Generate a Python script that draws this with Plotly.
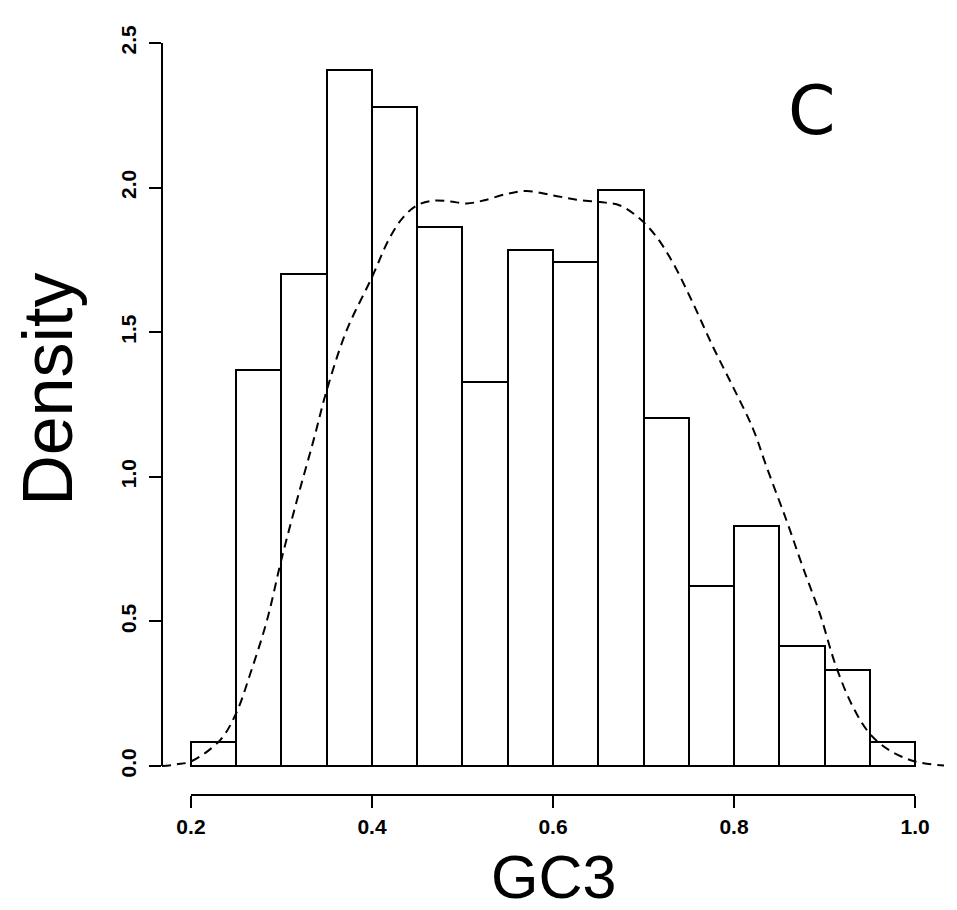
import plotly.graph_objects as go

# Histogram data (GC3 density histogram)
bin_edges = [0.20, 0.25, 0.30, 0.35, 0.40, 0.45, 0.50, 0.55, 0.60, 0.65,
             0.70, 0.75, 0.80, 0.85, 0.90, 0.95, 1.00]
bin_density = [0.082, 1.368, 1.700, 2.405, 2.280, 1.865, 1.327, 1.783,
               1.742, 1.990, 1.203, 0.621, 0.829, 0.414, 0.331, 0.082]

# Kernel density estimate (dashed curve)
kde_x = [0.168, 0.1845, 0.200, 0.232, 0.2497, 0.2655, 0.284, 0.2997, 0.317,
         0.3354, 0.350, 0.372, 0.400, 0.420, 0.4347, 0.4495, 0.468, 0.486,
         0.5047, 0.523, 0.5488, 0.571, 0.600, 0.626, 0.652, 0.674, 0.696,
         0.7145, 0.733, 0.755, 0.777, 0.799, 0.821, 0.836, 0.858, 0.876,
         0.8948, 0.913, 0.9315, 0.950, 0.972, 1.000, 1.033]
kde_y = [0.000, 0.006, 0.016, 0.089, 0.181, 0.319, 0.504, 0.711, 0.918,
         1.126, 1.299, 1.506, 1.690, 1.829, 1.898, 1.938, 1.955, 1.952,
         1.945, 1.955, 1.978, 1.988, 1.973, 1.958, 1.950, 1.938, 1.892,
         1.829, 1.737, 1.598, 1.448, 1.310, 1.166, 1.034, 0.849, 0.688,
         0.527, 0.342, 0.204, 0.112, 0.054, 0.016, 0.002]

x_ticks = [0.2, 0.4, 0.6, 0.8, 1.0]
x_ticklabels = ["0.2", "0.4", "0.6", "0.8", "1.0"]
y_ticks = [0.0, 0.5, 1.0, 1.5, 2.0, 2.5]
y_ticklabels = ["0.0", "0.5", "1.0", "1.5", "2.0", "2.5"]

x_title = "GC3"
y_title = "Density"
panel_label = "C"

centers = [(a + b) / 2 for a, b in zip(bin_edges[:-1], bin_edges[1:])]
widths = [b - a for a, b in zip(bin_edges[:-1], bin_edges[1:])]

fig = go.Figure()
fig.add_trace(go.Bar(
    x=centers, y=bin_density, width=widths,
    marker=dict(color="white", line=dict(color="black", width=2)),
    showlegend=False, hoverinfo="x+y",
))
fig.add_trace(go.Scatter(
    x=kde_x, y=kde_y, mode="lines",
    line=dict(color="black", width=2, dash="9px,6px", shape="spline"),
    showlegend=False,
))

tick_font = dict(family="Liberation Sans, Arial, sans-serif", size=21,
                 color="black", weight="bold")

fig.update_layout(
    width=949, height=902,
    margin=dict(l=154, r=13, t=6, b=115),
    paper_bgcolor="white", plot_bgcolor="white",
    bargap=0,
    xaxis=dict(
        range=[0.168, 1.032], showgrid=False, zeroline=False, showline=False,
        tickmode="array", tickvals=x_ticks, ticktext=x_ticklabels,
        ticks="outside", ticklen=12, tickwidth=2, tickcolor="black",
        tickfont=tick_font, ticklabelstandoff=1,
    ),
    yaxis=dict(
        range=[-0.1, 2.6], showgrid=False, zeroline=False, showline=False,
        tickmode="array", tickvals=y_ticks, ticktext=y_ticklabels,
        ticks="outside", ticklen=12, tickwidth=2, tickcolor="black",
        tickfont=tick_font, tickangle=-90, ticklabelstandoff=5,
    ),
    shapes=[
        dict(type="line", xref="x", yref="paper", x0=x_ticks[0], x1=x_ticks[-1],
             y0=0, y1=0, line=dict(color="black", width=2)),
        dict(type="line", xref="paper", yref="y", x0=0, x1=0,
             y0=y_ticks[0], y1=y_ticks[-1], line=dict(color="black", width=2)),
    ],
    annotations=[
        dict(text=x_title, x=0.6, xref="x", y=-0.1075, yref="paper",
             xanchor="center", yanchor="middle", showarrow=False, yshift=2,
             font=dict(family="Liberation Sans, Arial, sans-serif", size=61, color="black")),
        dict(text=y_title, x=-0.1466, xref="paper", y=0.5, yref="paper",
             xanchor="center", yanchor="middle", showarrow=False, textangle=-90,
             yshift=15,
             font=dict(family="Liberation Sans, Arial, sans-serif", size=70, color="black")),
        dict(text=panel_label, x=0.886, xref="x", y=2.266, yref="y",
             xanchor="center", yanchor="middle", showarrow=False,
             font=dict(family="DejaVu Sans, sans-serif", size=68, color="black")),
    ],
)

fig.write_html("out.html")
